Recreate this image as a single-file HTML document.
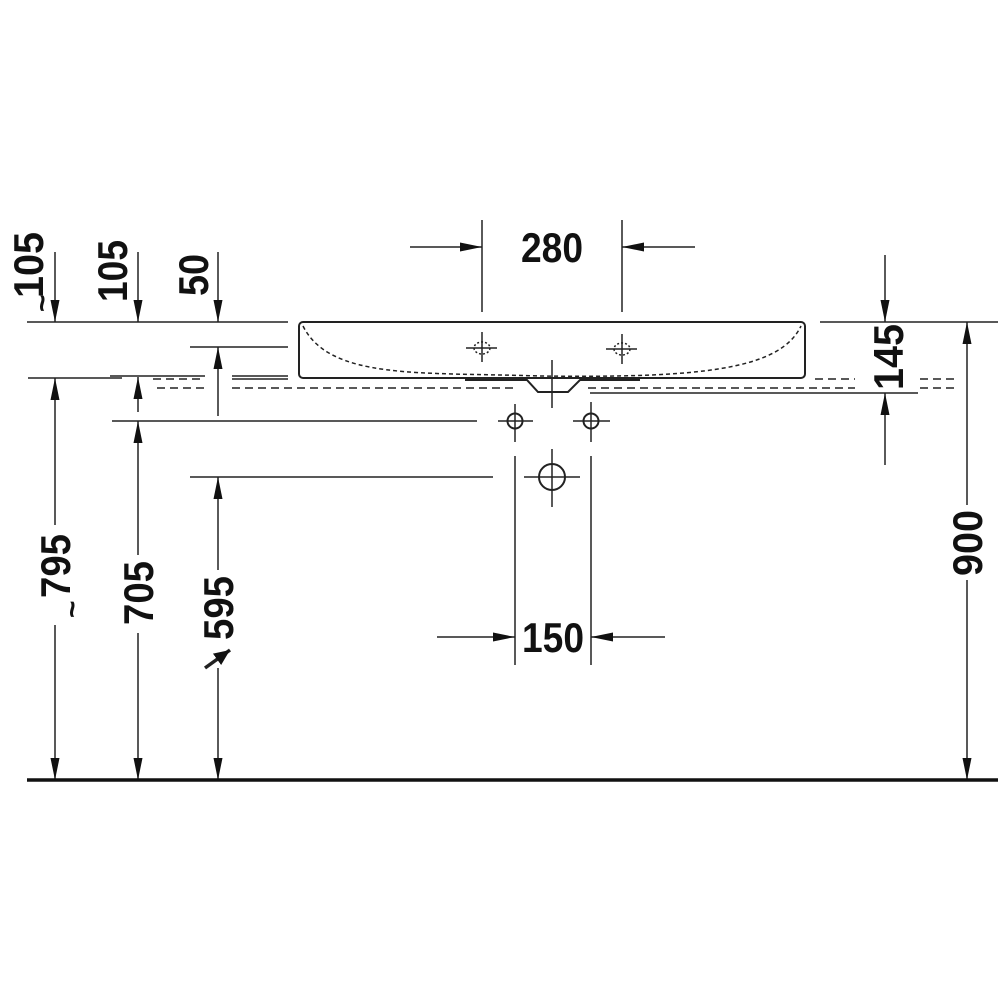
<!DOCTYPE html>
<html><head><style>html,body{margin:0;padding:0;background:#fff}svg{display:block}
text{font-family:"Liberation Sans",sans-serif;font-weight:bold;font-size:42px;fill:#111}</style></head>
<body>
<svg width="1000" height="1000" viewBox="0 0 1000 1000" xmlns="http://www.w3.org/2000/svg">
<defs>
<marker id="a" viewBox="0 0 22 9" refX="22" refY="4.5" markerWidth="22" markerHeight="9" markerUnits="userSpaceOnUse" orient="auto">
<path d="M0,0 L22,4.5 L0,9 Z" fill="#111"/></marker>
<marker id="b" viewBox="0 0 16 14" refX="16" refY="7" markerWidth="16" markerHeight="14" markerUnits="userSpaceOnUse" orient="auto">
<path d="M0,0 L16,7 L0,14 Z" fill="#111"/></marker>
</defs>
<g stroke="#222" stroke-width="1.5" fill="none">
<line x1="27" y1="322" x2="288" y2="322"/>
<line x1="820" y1="322" x2="998" y2="322"/>
<line x1="190" y1="347" x2="288" y2="347"/>
<line x1="28" y1="378" x2="122" y2="378"/>
<line x1="110" y1="376" x2="205" y2="376"/>
<line x1="232" y1="376" x2="288" y2="376"/>
<line x1="232" y1="379" x2="288" y2="379"/>
<line x1="112" y1="421" x2="477" y2="421"/>
<line x1="190" y1="477" x2="493" y2="477"/>
<line x1="590" y1="393" x2="918" y2="393"/>
<g stroke-dasharray="8,5">
<line x1="153" y1="379" x2="205" y2="379"/>
<line x1="157" y1="388" x2="205" y2="388"/>
<line x1="232" y1="388" x2="517" y2="388"/>
<line x1="588" y1="388" x2="855" y2="388"/>
<line x1="815" y1="379" x2="855" y2="379"/>
<line x1="920" y1="379" x2="958" y2="379"/>
<line x1="920" y1="388" x2="958" y2="388"/>
</g>
<rect x="299" y="322" width="506" height="56" rx="4" stroke-width="2"/>
<path d="M303,326 C330,380 420,372 540,376 C700,378 780,370 801,326" stroke-dasharray="4,3"/>
<path d="M465,380 L527,380 L538,392 L568,392 L580,380 L640,380" stroke-width="2"/>
<line x1="552" y1="360" x2="552" y2="408"/>
<line x1="466" y1="348" x2="497" y2="348"/><line x1="482" y1="332" x2="482" y2="362"/>
<ellipse cx="482" cy="348" rx="8" ry="6" stroke-dasharray="2,2"/>
<line x1="606" y1="349" x2="637" y2="349"/><line x1="622" y1="334" x2="622" y2="364"/>
<ellipse cx="622" cy="349" rx="8" ry="6" stroke-dasharray="2,2"/>
<circle cx="515" cy="421" r="7.5" stroke-width="2"/>
<line x1="498" y1="421" x2="533" y2="421"/><line x1="515" y1="404" x2="515" y2="442"/>
<circle cx="591" cy="421" r="7.5" stroke-width="2"/>
<line x1="573" y1="421" x2="610" y2="421"/><line x1="591" y1="402" x2="591" y2="442"/>
<circle cx="552" cy="477" r="13" stroke-width="2"/>
<line x1="524" y1="477" x2="580" y2="477"/><line x1="552" y1="449" x2="552" y2="507"/>
<line x1="515" y1="456" x2="515" y2="665"/>
<line x1="591" y1="456" x2="591" y2="665"/>
<line x1="437" y1="637" x2="515" y2="637" marker-end="url(#a)"/>
<line x1="665" y1="637" x2="591" y2="637" marker-end="url(#a)"/>
<line x1="482" y1="220" x2="482" y2="312"/>
<line x1="622" y1="220" x2="622" y2="312"/>
<line x1="410" y1="247" x2="482" y2="247" marker-end="url(#a)"/>
<line x1="695" y1="247" x2="622" y2="247" marker-end="url(#a)"/>
<line x1="55" y1="252" x2="55" y2="322" marker-end="url(#a)"/>
<line x1="138" y1="252" x2="138" y2="322" marker-end="url(#a)"/>
<line x1="218" y1="252" x2="218" y2="322" marker-end="url(#a)"/>
<line x1="218" y1="416" x2="218" y2="347" marker-end="url(#a)"/>
<line x1="138" y1="412" x2="138" y2="377" marker-end="url(#a)"/>
<line x1="55" y1="525" x2="55" y2="378" marker-end="url(#a)"/>
<line x1="55" y1="625" x2="55" y2="780" marker-end="url(#a)"/>
<line x1="138" y1="555" x2="138" y2="421" marker-end="url(#a)"/>
<line x1="138" y1="633" x2="138" y2="780" marker-end="url(#a)"/>
<line x1="218" y1="570" x2="218" y2="477" marker-end="url(#a)"/>
<line x1="218" y1="668" x2="218" y2="780" marker-end="url(#a)"/>
<line x1="885" y1="255" x2="885" y2="322" marker-end="url(#a)"/>
<line x1="885" y1="465" x2="885" y2="393" marker-end="url(#a)"/>
<line x1="967" y1="505" x2="967" y2="322" marker-end="url(#a)"/>
<line x1="967" y1="580" x2="967" y2="780" marker-end="url(#a)"/>
<line x1="205" y1="668" x2="230" y2="650" stroke-width="3.5" marker-end="url(#b)"/>
</g>
<line x1="27" y1="780" x2="998" y2="780" stroke="#111" stroke-width="3.5"/>
<text x="552" y="262" text-anchor="middle" textLength="62" lengthAdjust="spacingAndGlyphs">280</text>
<text x="553" y="652" text-anchor="middle" textLength="62" lengthAdjust="spacingAndGlyphs">150</text>
<text transform="translate(43,298) rotate(-90)" textLength="66" lengthAdjust="spacingAndGlyphs">105</text>
<text transform="translate(52,312) rotate(-90)" style="font-size:30px">~</text>
<text transform="translate(127,302) rotate(-90)" textLength="62" lengthAdjust="spacingAndGlyphs">105</text>
<text transform="translate(208,296) rotate(-90)" textLength="42" lengthAdjust="spacingAndGlyphs">50</text>
<text transform="translate(70,598) rotate(-90)" textLength="64" lengthAdjust="spacingAndGlyphs">795</text>
<text transform="translate(82,618) rotate(-90)" style="font-size:30px">~</text>
<text transform="translate(153,625) rotate(-90)" textLength="64" lengthAdjust="spacingAndGlyphs">705</text>
<text transform="translate(233,640) rotate(-90)" textLength="64" lengthAdjust="spacingAndGlyphs">595</text>
<text transform="translate(903,390) rotate(-90)" textLength="66" lengthAdjust="spacingAndGlyphs">145</text>
<text transform="translate(982,576) rotate(-90)" textLength="66" lengthAdjust="spacingAndGlyphs">900</text>
</svg>
</body></html>
